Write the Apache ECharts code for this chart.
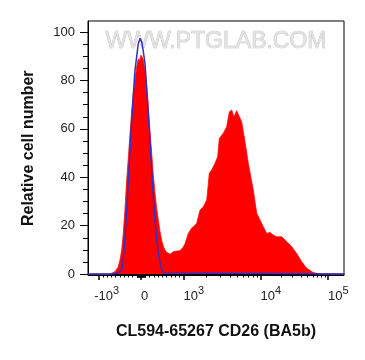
<!DOCTYPE html>
<html>
<head>
<meta charset="utf-8">
<script src="https://cdn.jsdelivr.net/npm/echarts@6/dist/echarts.min.js"></script>
<style>
html,body{margin:0;padding:0;background:#fff;}
#chart{width:365px;height:360px;}
</style>
</head>
<body>
<div id="chart"></div>
<script>
// ---- data (x in display channel units 0..256 of the biexponential axis) ----
const redX = [0,22,24,27,30,32,33.7,35.3,37,38.7,40.3,42,43.7,45.3,47,48.7,50.3,51.5,53,53.7,55,57,58.7,60.3,62,63.7,65.3,67,68.7,70.3,72,73.7,75.3,77,78.7,80.3,82,85.3,88.7,92,95.3,97,100.3,103.7,106,108.7,110.5,112,115.3,118.7,120,121.3,123.7,127,129.7,131.3,135.3,138.7,141.3,143.7,146,148.7,150.5,153.7,157,160.3,165.3,168.7,172,175.3,178.7,182,185.3,188.7,193.7,198.7,203.7,208.7,213.7,218.7,225.3,232,256];
const redY = [0,0,0.3,1,2.8,5.8,10,16.9,27,38.8,48,58,67,74.8,80,85.7,89,88,90.5,91.2,89,84.3,77,69.1,59,50,41,33.4,27,22.3,17.5,14,11.5,9.9,9,8.3,8.2,9.2,9.5,9.6,11.2,12.5,16.8,19,19.8,21,24,26.4,27.8,30.6,36,41.7,43,45.8,48.5,56,58.2,60.9,67,67.8,65,67.5,67,62.9,54.7,45.8,34.7,25.2,22.3,19.5,16.8,17.2,16.1,15.4,15.4,13.4,11.3,8.5,5.1,2.4,0.6,0,0];
const blueX = [0,24,28,31,33.7,35.3,37,38.7,40.3,42,43.7,45.3,47,48.7,50.3,52,53.7,55.3,57,58.7,60.3,62,63.7,65.3,67,68.7,70.3,72,73.7,75.3,77,256];
const blueY = [0,0,0.3,0.8,1.7,6,15.4,26,38.8,51,63.6,74,84.3,90,95.3,97.4,96,92,87,77,66.5,55,43,32,22.3,14.5,8.6,4.5,1.7,0.5,0,0];

const xTickValues = [-1000, 0, 1000, 10000, 100000];
const xTickBase = ['-10', '0', '10', '10', '10'];
const xTickExp = ['3', '', '3', '4', '5'];
const xMinorValues = [-900,-800,-700,-600,-500,-400,-300,-200,-100,
  -90,-80,-70,-60,-50,-40,-30,-20,-10,10,20,30,40,50,60,70,80,90,
  100,200,300,400,500,600,700,800,900,
  2000,3000,4000,5000,6000,7000,8000,9000,
  20000,30000,40000,50000,60000,70000,80000,90000];
const yTickValues = [0, 20, 40, 60, 80, 100];
const yMinorValues = [5,10,15,25,30,35,45,50,55,65,70,75,85,90,95];

const xTitle = 'CL594-65267 CD26 (BA5b)';
const yTitle = 'Relative cell number';
const watermark = 'WWW.PTGLAB.COM';

// biexponential display transform: fluorescence value -> display channel
function chOf(v) {
  if (Math.abs(v) <= 1000) return 53 + 0.0425 * v;
  if (v > 1000 && v <= 10000) return 95.5 + 77 * Math.log10(v / 1000);
  if (v > 10000) return 172.5 + 67.5 * Math.log10(v / 10000);
  return 10.5 - 77 * Math.log10(-v / 1000);
}

const FONT = 'Arial, "Liberation Sans", sans-serif';
const majorCh = xTickValues.map(chOf);
const minorCh = xMinorValues.map(chOf);

const rich = {
  b: { fontSize: 13, fontFamily: FONT, color: '#222', lineHeight: 16 },
  s: { fontSize: 11, fontFamily: FONT, color: '#222', lineHeight: 14, padding: [0, 0, 12, 0] }
};
const labelMap = {};
majorCh.forEach((c, i) => {
  const base = xTickBase[i], exp = xTickExp[i];
  const minusW = base.startsWith('-') ? 4.3 : 0;
  const digitsW = base.replace('-', '').length * 7.23;
  const expW = exp ? 6.1 : 0;
  const C = minusW + digitsW + expW;
  const P = Math.max(0, C - 2 * minusW);
  const key = 'p' + i;
  rich[key] = { width: P, fontSize: 13, lineHeight: 16 };
  labelMap[c.toFixed(3)] = { key: key, base: base, exp: exp };
});

const chart = echarts.init(document.getElementById('chart'), null, { renderer: 'canvas' });

chart.setOption({
  animation: false,
  backgroundColor: '#fff',
  grid: { left: 88, right: 21, top: 21, bottom: 84.5, show: true, borderColor: '#000', borderWidth: 1, backgroundColor: 'transparent' },
  graphic: [{
    type: 'text', z: 1, x: 216, y: 42,
    style: { text: watermark, font: '23px ' + FONT, fill: '#e2e2e2', stroke: '#bdbdbd', lineWidth: 0.7, align: 'center', verticalAlign: 'middle' }
  }],
  xAxis: [{
    type: 'value', min: 0, max: 256,
    name: xTitle, nameLocation: 'middle', nameGap: 48,
    nameTextStyle: { fontSize: 16, fontWeight: 'bold', fontFamily: FONT, color: '#111' },
    axisLine: { show: true, lineStyle: { color: '#000', width: 1 } },
    axisTick: { show: true, customValues: majorCh, length: 6, lineStyle: { color: '#000', width: 1.5 } },
    axisLabel: {
      show: true, customValues: majorCh, margin: 13, rich: rich,
      formatter: function (v) {
        const o = labelMap[Number(v).toFixed(3)];
        if (!o) return '';
        return '{' + o.key + '|}{b|' + o.base + '}' + (o.exp ? '{s|' + o.exp + '}' : '');
      }
    },
    splitLine: { show: false }
  }, {
    type: 'value', min: 0, max: 256, position: 'bottom',
    axisLine: { show: false },
    axisTick: { show: true, customValues: minorCh, length: 3.5, lineStyle: { color: '#000', width: 1 } },
    axisLabel: { show: false },
    splitLine: { show: false }
  }],
  yAxis: [{
    type: 'value', min: -0.6, max: 104.6,
    name: yTitle, nameLocation: 'middle', nameGap: 51,
    nameTextStyle: { fontSize: 16, fontWeight: 'bold', fontFamily: FONT, color: '#111' },
    axisLine: { show: true, lineStyle: { color: '#000', width: 1 } },
    axisTick: { show: true, customValues: yTickValues, length: 8, lineStyle: { color: '#000', width: 1 } },
    axisLabel: { show: true, customValues: yTickValues, margin: 13, fontSize: 13, fontFamily: FONT, color: '#222' },
    splitLine: { show: false }
  }, {
    type: 'value', min: -0.6, max: 104.6, position: 'left',
    axisLine: { show: false },
    axisTick: { show: true, customValues: yMinorValues, length: 5, lineStyle: { color: '#000', width: 1 } },
    axisLabel: { show: false },
    splitLine: { show: false }
  }],
  series: [{
    type: 'line', name: 'CD26', xAxisIndex: 0, yAxisIndex: 0,
    data: redX.map((x, i) => [x, redY[i]]),
    symbol: 'none', smooth: false, z: 2,
    lineStyle: { color: '#ff1010', width: 0.8 },
    areaStyle: { color: '#ff0000', opacity: 1 }
  }, {
    type: 'line', name: 'Isotype', xAxisIndex: 0, yAxisIndex: 0,
    data: blueX.map((x, i) => [x, blueY[i]]),
    symbol: 'none', smooth: false, z: 3,
    lineStyle: { color: '#3030c8', width: 1.5 }
  }]
});
</script>
</body>
</html>
